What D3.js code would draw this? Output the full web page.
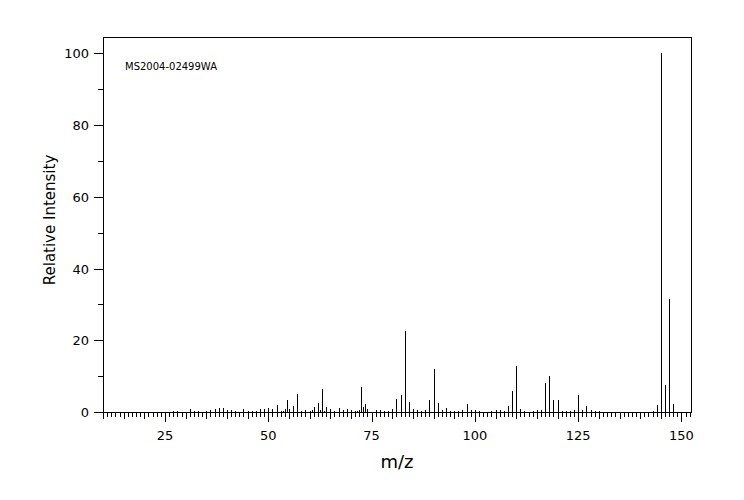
<!DOCTYPE html>
<html>
<head>
<meta charset="utf-8">
<script src="https://cdn.jsdelivr.net/npm/d3@7/dist/d3.min.js"></script>
<style>
  html, body { margin: 0; padding: 0; background: #fff; }
  svg { display: block; }
  text { font-family: "DejaVu Sans", sans-serif; fill: #000; }
</style>
</head>
<body>
<svg id="chart" width="744" height="500"></svg>
<script>
// ---- data ----
const mzValues = [27, 28, 31, 32, 33, 35, 36, 37, 38, 39, 40, 41, 42, 44, 45, 46, 47, 48, 49, 50,
  51, 52, 53, 53.5, 54, 54.5, 55, 56, 57, 58, 59, 60, 60.5, 61, 62, 62.5, 63, 63.5, 64, 65,
  66, 67, 68, 69, 70, 71, 71.5, 72, 72.5, 73, 73.5, 74, 76, 77, 78, 79, 80, 81, 82, 83,
  84, 85, 86, 87, 88, 89, 90, 91, 92, 93, 94, 95, 96, 97, 98, 99, 100, 101, 104, 105,
  106, 107, 108, 109, 110, 111, 112, 114, 115, 116, 117, 118, 119, 120, 121, 122, 123, 124, 125, 126,
  127, 128, 129, 130, 143, 144, 145, 146, 147, 148];
const intensities = [0.3, 0.3, 0.8, 0.4, 0.4, 0.4, 0.6, 0.8, 1.0, 1.0, 0.6, 0.6, 0.4, 0.8, 0.4, 0.4, 0.4, 0.8, 0.8, 1.0,
  0.8, 2.0, 0.4, 0.3, 0.8, 3.3, 0.8, 1.7, 5.0, 0.3, 0.6, 0.3, 0.6, 1.4, 2.5, 0.6, 6.4, 0.3, 1.4, 0.8,
  0.3, 1.1, 0.6, 0.8, 0.6, 0.3, 0.3, 0.6, 7.0, 1.4, 2.2, 0.8, 0.6, 0.6, 0.3, 0.3, 0.8, 3.6, 4.7, 22.6,
  2.8, 0.8, 0.6, 0.3, 0.6, 3.3, 12.0, 2.5, 0.6, 1.1, 0.3, 0.3, 0.3, 0.6, 2.2, 0.6, 0.6, 0.3, 0.3, 0.6,
  0.6, 0.3, 1.7, 5.9, 12.8, 0.8, 0.3, 0.3, 0.6, 0.6, 8.1, 10.0, 3.3, 3.3, 0.3, 0.3, 0.3, 0.6, 4.7, 0.6,
  1.7, 0.6, 0.3, 0.3, 0.3, 2.0, 100, 7.5, 31.5, 2.2];
const xTickLabels = [25, 50, 75, 100, 125, 150];
const yTickLabels = [0, 20, 40, 60, 80, 100];
const xDomain = [10, 152.3];
const yDomain = [0, 104.55];
const xTitle = "m/z";
const yTitle = "Relative Intensity";
const sampleId = "MS2004-02499WA";

// ---- layout ----
const mLeft = 103, mRight = 691, mTop = 37, mBottom = 412;
const svg = d3.select("#chart");

const x = d3.scaleLinear().domain(xDomain).range([mLeft, mRight]);
const y = d3.scaleLinear().domain(yDomain).range([mBottom, mTop]);
const px = v => Math.round(v) + 0.5;

// frame
svg.append("rect")
  .attr("x", mLeft + 0.5).attr("y", mTop + 0.5)
  .attr("width", mRight - mLeft).attr("height", mBottom - mTop)
  .attr("fill", "none").attr("stroke", "#000").attr("stroke-width", 1)
  .attr("shape-rendering", "crispEdges");

// x ticks: every unit
const xUnits = d3.range(Math.ceil(xDomain[0]), Math.floor(xDomain[1]) + 1);
svg.append("g").selectAll("line").data(xUnits).join("line")
  .attr("x1", d => px(x(d))).attr("x2", d => px(x(d)))
  .attr("y1", mBottom).attr("y2", d => mBottom + (d % 25 === 0 ? 10 : d % 5 === 0 ? 7 : 5))
  .attr("stroke", "#000").attr("stroke-width", 1)
  .attr("shape-rendering", "crispEdges");

svg.append("g").selectAll("text").data(xTickLabels).join("text")
  .attr("x", d => x(d)).attr("y", 440)
  .attr("text-anchor", "middle")
  .attr("font-size", 13)
  .text(d => d);

// y ticks
const yMinor = d3.range(0, 101, 10);
svg.append("g").selectAll("line").data(yMinor).join("line")
  .attr("x1", d => mLeft - (d % 20 === 0 ? 9 : 5)).attr("x2", mLeft)
  .attr("y1", d => px(y(d))).attr("y2", d => px(y(d)))
  .attr("stroke", "#000").attr("stroke-width", 1)
  .attr("shape-rendering", "crispEdges");

svg.append("g").selectAll("text").data(yTickLabels).join("text")
  .attr("x", 89).attr("y", d => y(d) + 5)
  .attr("text-anchor", "end")
  .attr("font-size", 13)
  .text(d => d);

// peaks
const peaks = mzValues.map((m, i) => ({ m, v: intensities[i] }));
svg.append("g").selectAll("line").data(peaks).join("line")
  .attr("x1", d => px(x(d.m))).attr("x2", d => px(x(d.m)))
  .attr("y1", mBottom).attr("y2", d => y(d.v))
  .attr("stroke", "#000").attr("stroke-width", 1)
  .attr("shape-rendering", "crispEdges");

// titles
svg.append("text")
  .attr("x", 397).attr("y", 468)
  .attr("text-anchor", "middle")
  .attr("font-size", 18)
  .text(xTitle);

svg.append("text")
  .attr("transform", "translate(55,220) rotate(-90)")
  .attr("text-anchor", "middle")
  .attr("font-size", 15)
  .text(yTitle);

svg.append("text")
  .attr("x", 125).attr("y", 70)
  .attr("font-family", "DejaVu Sans Mono, monospace")
  .attr("font-size", 10)
  .text(sampleId);
</script>
</body>
</html>
